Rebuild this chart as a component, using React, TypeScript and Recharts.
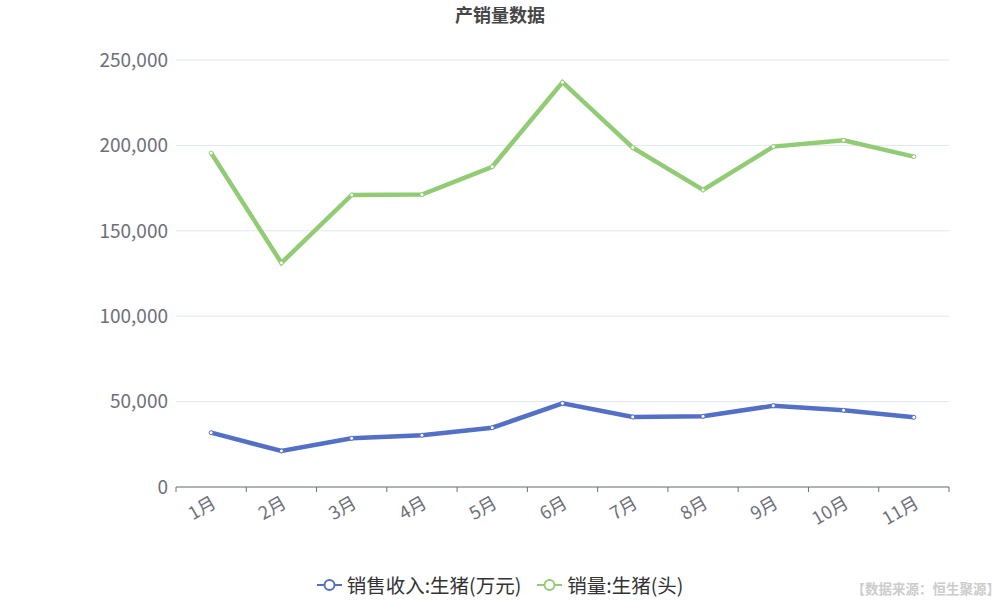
import { CartesianGrid, Legend, Line, LineChart, XAxis, YAxis } from 'recharts';

const months = ['1月', '2月', '3月', '4月', '5月', '6月', '7月', '8月', '9月', '10月', '11月'];
const revenue = [31800, 21100, 28500, 30300, 34700, 49000, 41000, 41400, 47600, 44900, 40800];
const volume = [195500, 131200, 171000, 171200, 187500, 237000, 198700, 173900, 199300, 203000, 193400];
const yTicks = [0, 50000, 100000, 150000, 200000, 250000];

const data = months.map((m, i) => ({ month: m, revenue: revenue[i], volume: volume[i] }));

const FONT = '"Noto Sans CJK SC", "Noto Sans", sans-serif';
const PLOT_LEFT = 176;
const PLOT_RIGHT = 51;
const BAND = (1000 - PLOT_LEFT - PLOT_RIGHT) / months.length;
const AXIS_COLOR = '#6e7079';

const BLUE = '#5470c6';
const GREEN = '#91cc75';

function XTick(props: any) {
  const { x, y, payload, index } = props;
  const half = BAND / 2;
  return (
    <g>
      <line x1={x - half} x2={x - half} y1={y} y2={y + 5} stroke={AXIS_COLOR} />
      {index === months.length - 1 && (
        <line x1={x + half} x2={x + half} y1={y} y2={y + 5} stroke={AXIS_COLOR} />
      )}
      <text
        x={x + 3}
        y={y + 14}
        textAnchor="end"
        dy="0.35em"
        fill={AXIS_COLOR}
        fontSize={18}
        fontFamily={FONT}
        transform={`rotate(-30, ${x + 3}, ${y + 14})`}
      >
        {payload.value}
      </text>
    </g>
  );
}

function LegendContent() {
  const items = [
    { name: '销售收入:生猪(万元)', color: BLUE },
    { name: '销量:生猪(头)', color: GREEN }
  ];
  return (
    <div style={{ display: 'flex', justifyContent: 'center', gap: 16, fontFamily: FONT }}>
      {items.map((it) => (
        <div key={it.name} style={{ display: 'flex', alignItems: 'center' }}>
          <svg width={25} height={14} style={{ marginRight: 5 }}>
            <line x1={0} x2={25} y1={7} y2={7} stroke={it.color} strokeWidth={2} />
            <circle cx={12.5} cy={7} r={5} fill="#fff" stroke={it.color} strokeWidth={2} />
          </svg>
          <span style={{ fontSize: 19.5, color: '#333' }}>{it.name}</span>
        </div>
      ))}
    </div>
  );
}

export default function App() {
  return (
    <div style={{ position: 'absolute', left: 0, top: 0, width: 1000, height: 600, background: '#fff' }}>
      <div
        style={{
          position: 'absolute',
          top: 1,
          left: 0,
          width: 1000,
          textAlign: 'center',
          fontFamily: FONT,
          fontWeight: 'bold',
          fontSize: 18,
          color: '#464646'
        }}
      >
        产销量数据
      </div>
      <LineChart
        width={1000}
        height={600}
        data={data}
        margin={{ top: 60, right: PLOT_RIGHT, left: 0, bottom: 0 }}
      >
        <CartesianGrid vertical={false} stroke="#e0e6f1" />
        <XAxis
          dataKey="month"
          scale="band"
          height={113}
          interval={0}
          stroke={AXIS_COLOR}
          tickLine={false}
          tickSize={0}
          tickMargin={0}
          tick={<XTick />}
        />
        <YAxis
          width={PLOT_LEFT}
          domain={[0, 250000]}
          ticks={yTicks}
          axisLine={false}
          tickLine={false}
          tick={{ fill: AXIS_COLOR, fontSize: 19, fontFamily: FONT }}
          tickFormatter={(v: number) => v.toLocaleString('en-US')}
        />
        <Legend
          verticalAlign="middle"
          align="center"
          layout="horizontal"
          content={<LegendContent />}
          wrapperStyle={{ top: 570, left: 0, width: 1000 }}
        />
        <Line
          dataKey="revenue"
          name="销售收入:生猪(万元)"
          stroke={BLUE}
          strokeWidth={4.5}
          dot={{ r: 2, fill: '#fff', stroke: BLUE, strokeWidth: 1 }}
          isAnimationActive={false}
        />
        <Line
          dataKey="volume"
          name="销量:生猪(头)"
          stroke={GREEN}
          strokeWidth={4.5}
          dot={{ r: 2, fill: '#fff', stroke: GREEN, strokeWidth: 1 }}
          isAnimationActive={false}
        />
      </LineChart>
      <div
        style={{
          position: 'absolute',
          right: 0,
          top: 578,
          fontFamily: FONT,
          fontWeight: 'bold',
          fontSize: 13.5,
          color: '#cccccc'
        }}
      >
        【数据来源：恒生聚源】
      </div>
    </div>
  );
}
